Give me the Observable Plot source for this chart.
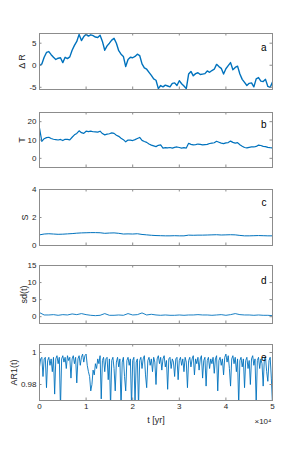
<!DOCTYPE html>
<html><head><meta charset="utf-8">
<script src="https://cdn.jsdelivr.net/npm/d3@7"></script>
<script src="https://cdn.jsdelivr.net/npm/@observablehq/plot@0.6"></script>
<style>
html,body{margin:0;padding:0;background:#fff;}
body{width:300px;height:450px;position:relative;overflow:hidden;font-family:"Liberation Sans",Arial,Helvetica,sans-serif;}
.panel{position:absolute;left:0;}
</style></head>
<body>
<script>
// time axis in units of 10^4 yr
const tA = [0,0.05,0.1,0.15,0.2,0.25,0.3,0.35,0.4,0.45,0.5,0.55,0.6,0.65,0.7,0.75,0.8,0.85,0.9,0.95,1,1.05,1.1,1.15,1.2,1.25,1.3,1.35,1.4,1.45,1.5,1.55,1.6,1.65,1.7,1.75,1.8,1.85,1.9,1.95,2,2.05,2.1,2.15,2.2,2.25,2.3,2.35,2.4,2.45,2.5,2.55,2.6,2.65,2.7,2.75,2.8,2.85,2.9,2.95,3,3.05,3.1,3.15,3.2,3.25,3.3,3.35,3.4,3.45,3.5,3.55,3.6,3.65,3.7,3.75,3.8,3.85,3.9,3.95,4,4.05,4.1,4.15,4.2,4.25,4.3,4.35,4.4,4.45,4.5,4.55,4.6,4.65,4.7,4.75,4.8,4.85,4.9,4.95,5];
const deltaR = [-0.1,0.3,1.8,2.9,3.1,2.4,1.8,1.3,1.6,1.7,
0.6,1.8,1.5,1.9,3.4,4.5,5.4,7.0,5.6,6.5,
7.0,6.6,6.9,6.7,6.4,6.3,6.8,5.4,3.4,4.4,
5.0,5.7,6.1,5.0,3.3,2.5,2.0,-0.3,1.3,1.8,
1.7,2.0,2.5,2.2,0.3,-0.6,-0.9,-1.6,-2.3,-3.1,
-3.4,-5.3,-4.6,-4.9,-4.5,-4.7,-4.9,-4.1,-4.0,-4.6,
-3.5,-4.2,-4.7,-5.3,-2.0,-1.4,-2.4,-1.9,-1.7,-2.1,
-2.0,-1.9,-1.3,-1.6,-1.2,-0.9,0.2,-0.3,-0.7,-2.0,
-0.8,-0.1,0.6,-1.0,-0.5,-0.2,-2.0,-3.2,-3.9,-4.6,
-4.1,-4.0,-4.9,-3.1,-2.8,-3.6,-3.7,-3.2,-4.8,-5.0,
-3.8];
const temperature = [16.5,9.3,10.7,11.3,11.5,10.8,10.4,10.2,10.0,10.3,
9.7,10.4,10.3,10.1,11.5,12.8,13.6,15.0,14.0,13.6,
14.8,14.6,14.8,14.5,14.4,14.3,14.8,13.5,12.8,13.2,
13.4,13.9,13.6,12.6,12.0,11.0,10.2,9.0,10.0,9.9,
9.7,10.2,10.8,11.4,9.8,9.2,8.7,7.8,7.2,6.8,
6.4,7.1,7.3,5.6,5.8,5.7,5.9,5.6,6.0,6.2,
5.9,5.6,5.8,5.6,8.2,7.6,7.3,7.5,7.8,7.6,
7.3,7.5,7.6,8.1,8.3,8.5,9.3,8.8,8.3,8.0,
8.4,8.6,9.4,8.7,8.3,8.6,7.4,6.6,5.9,5.7,
6.0,6.2,6.2,6.5,7.2,7.0,6.5,6.4,6.0,5.8,
5.7];
const tC = [0,0.1,0.2,0.3,0.4,0.5,0.6,0.7,0.8,0.9,1,1.1,1.2,1.3,1.4,1.5,1.6,1.7,1.8,1.9,2,2.1,2.2,2.3,2.4,2.5,2.6,2.7,2.8,2.9,3,3.1,3.2,3.3,3.4,3.5,3.6,3.7,3.8,3.9,4,4.1,4.2,4.3,4.4,4.5,4.6,4.7,4.8,4.9,5];
const sVals = [0.76,0.82,0.84,0.82,0.80,0.81,0.83,0.85,0.88,0.90,
0.91,0.92,0.92,0.91,0.87,0.89,0.90,0.87,0.82,0.83,
0.82,0.84,0.79,0.76,0.73,0.71,0.70,0.69,0.69,0.70,
0.69,0.69,0.74,0.73,0.74,0.74,0.75,0.76,0.77,0.75,
0.76,0.77,0.76,0.72,0.69,0.69,0.70,0.71,0.70,0.69,
0.69];
const sdVals = [1.2,0.5,0.5,0.6,0.4,0.6,0.5,0.8,0.6,0.9,
0.6,0.4,0.3,0.4,0.9,0.4,0.4,0.5,0.4,0.9,
0.5,0.6,1.1,0.5,0.7,0.5,0.4,0.5,0.4,0.4,
0.5,0.4,0.5,0.5,0.6,0.5,0.5,0.4,0.5,0.6,
0.4,0.6,0.9,0.6,0.5,0.5,0.4,0.5,0.4,0.4,
0.3];
const tE = [0,0.025,0.05,0.075,0.1,0.125,0.15,0.175,
0.2,0.225,0.25,0.275,0.3,0.325,0.35,0.375,
0.4,0.425,0.45,0.475,0.5,0.525,0.55,0.575,
0.6,0.625,0.65,0.675,0.7,0.725,0.75,0.775,
0.8,0.825,0.85,0.875,0.9,0.925,0.95,0.975,
1,1.025,1.05,1.075,1.1,1.125,1.15,1.175,
1.2,1.225,1.25,1.275,1.3,1.325,1.35,1.375,
1.4,1.425,1.45,1.475,1.5,1.525,1.55,1.575,
1.6,1.625,1.65,1.675,1.7,1.725,1.75,1.775,
1.8,1.825,1.85,1.875,1.9,1.925,1.95,1.975,
2,2.025,2.05,2.075,2.1,2.125,2.15,2.175,
2.2,2.225,2.25,2.275,2.3,2.325,2.35,2.375,
2.4,2.425,2.45,2.475,2.5,2.525,2.55,2.575,
2.6,2.625,2.65,2.675,2.7,2.725,2.75,2.775,
2.8,2.825,2.85,2.875,2.9,2.925,2.95,2.975,
3,3.025,3.05,3.075,3.1,3.125,3.15,3.175,
3.2,3.225,3.25,3.275,3.3,3.325,3.35,3.375,
3.4,3.425,3.45,3.475,3.5,3.525,3.55,3.575,
3.6,3.625,3.65,3.675,3.7,3.725,3.75,3.775,
3.8,3.825,3.85,3.875,3.9,3.925,3.95,3.975,
4,4.025,4.05,4.075,4.1,4.125,4.15,4.175,
4.2,4.225,4.25,4.275,4.3,4.325,4.35,4.375,
4.4,4.425,4.45,4.475,4.5,4.525,4.55,4.575,
4.6,4.625,4.65,4.675,4.7,4.725,4.75,4.775,
4.8,4.825,4.85,4.875,4.9,4.925,4.95,4.975,
5];
const ar1 = [0.991,0.996,0.997,0.985,0.996,0.997,0.978,0.995,
0.997,0.992,0.996,0.988,0.997,0.974,0.996,0.998,
0.993,0.997,0.965,0.996,0.998,0.994,0.997,0.990,
0.998,0.995,0.997,0.984,0.996,0.998,0.993,0.997,
0.981,0.996,0.998,0.992,0.997,0.999,0.994,0.998,
0.999,0.992,0.988,0.985,0.976,0.980,0.989,0.986,
0.993,0.990,0.996,0.993,0.998,0.971,0.995,0.997,
0.988,0.996,0.997,0.983,0.996,0.966,0.995,0.997,
0.990,0.976,0.994,0.997,0.991,0.996,0.965,0.994,
0.997,0.985,0.976,0.995,0.997,0.992,0.996,0.966,
0.995,0.997,0.968,0.994,0.996,0.966,0.995,0.997,
0.990,0.996,0.998,0.986,0.978,0.995,0.997,0.992,
0.996,0.988,0.997,0.994,0.980,0.996,0.998,0.993,
0.997,0.989,0.996,0.998,0.991,0.995,0.977,0.996,
0.997,0.990,0.996,0.994,0.985,0.996,0.997,0.983,
0.995,0.997,0.992,0.996,0.988,0.997,0.994,0.978,
0.995,0.997,0.991,0.996,0.998,0.986,0.996,0.993,
0.997,0.989,0.996,0.998,0.984,0.995,0.997,0.979,
0.995,0.997,0.990,0.996,0.993,0.997,0.987,0.996,
0.998,0.976,0.995,0.997,0.992,0.996,0.986,0.997,
0.999,0.994,0.998,0.990,0.979,0.996,0.998,0.993,
0.997,0.988,0.996,0.967,0.995,0.997,0.991,0.996,
0.978,0.995,0.997,0.990,0.995,0.980,0.996,0.998,
0.992,0.996,0.968,0.995,0.997,0.990,0.996,0.993,
0.979,0.996,0.997,0.988,0.982,0.995,0.997,0.984,
0.967];

const xTicks = [0,1,2,3,4,5];
const yTicksA = [-5,0,5];
const yTicksB = [0,10,20];
const yTicksC = [0,2,4];
const yTicksD = [0,5,10,15];
const yTicksE = [0.98,1];
const yLabels = ["Δ R","T","S","sd(t)","AR1(t)"];
const letters = ["a","b","c","d","e"];
const xLabel = "t [yr]";
const xExponent = "×10⁴";

const FONT = '"Liberation Sans", Arial, Helvetica, sans-serif';
const INK = "#262626";
const AXC = "#8c8c8c";
const LINEC = "#0072BD";
const ML = 39, MR = 28, W = 300, PW = W - ML - MR;
const TL = 2.5;

function panel(cfg) {
  const {t, v, top, h, domain, yTicks, label, labelDx, letter, last, sw} = cfg;
  const mt = 8, mb = last ? 32 : 8;
  const data = t.map((x, i) => ({x, y: v[i]}));
  const marks = [
    Plot.line(data, {x: "x", y: "y", stroke: LINEC, strokeWidth: sw, clip: true}),
    Plot.frame({stroke: AXC, strokeWidth: 1}),
    Plot.tickX(xTicks, {x: d => d, insetTop: h - TL, stroke: AXC}),
    Plot.tickX(xTicks, {x: d => d, insetBottom: h - TL, stroke: AXC}),
    Plot.tickY(yTicks, {y: d => d, insetRight: PW - TL, stroke: AXC}),
    Plot.tickY(yTicks, {y: d => d, insetLeft: PW - TL, stroke: AXC}),
    Plot.axisY(yTicks, {tickSize: 0, tickPadding: 3, tickFormat: d => String(d), fontSize: 8, fill: INK, label: null}),
    Plot.text([label], {frameAnchor: "left", rotate: -90, dx: labelDx, fontSize: 9, fill: INK, textAnchor: "middle", lineAnchor: "middle"}),
    Plot.text([letter], {frameAnchor: "top-right", dx: -6, dy: cfg.letterDy, fontSize: 10, fill: "#000", textAnchor: "end", lineAnchor: "middle"})
  ];
  if (last) {
    marks.push(
      Plot.axisX(xTicks, {tickSize: 0, tickPadding: 3, tickFormat: d => String(d), fontSize: 8, fill: INK, label: null}),
      Plot.text([xLabel], {frameAnchor: "bottom", dy: 20, fontSize: 9, fill: INK, lineAnchor: "middle"}),
      Plot.text([xExponent], {frameAnchor: "bottom-right", dx: -1, dy: 21, fontSize: 8, fill: INK, textAnchor: "end", lineAnchor: "middle"})
    );
  }
  const chart = Plot.plot({
    width: W, height: h + mt + mb,
    marginLeft: ML, marginRight: MR, marginTop: mt, marginBottom: mb,
    style: {fontFamily: FONT, background: "transparent", color: INK, overflow: "visible"},
    x: {domain: [0, 5], axis: null},
    y: {domain, axis: null},
    marks
  });
  const div = document.createElement("div");
  div.className = "panel";
  div.style.top = (top - mt) + "px";
  div.appendChild(chart);
  document.body.appendChild(div);
}

panel({t: tA, v: deltaR, top: 33, h: 56, domain: [-5.5, 7.2], yTicks: yTicksA, label: yLabels[0], labelDx: -17, letter: letters[0], letterDy: 14, sw: 1.4});
panel({t: tA, v: temperature, top: 112, h: 55, domain: [-5, 25], yTicks: yTicksB, label: yLabels[1], labelDx: -17, letter: letters[1], letterDy: 12, sw: 1.2});
panel({t: tC, v: sVals, top: 189, h: 56, domain: [0, 4], yTicks: yTicksC, label: yLabels[2], labelDx: -14, letter: letters[2], letterDy: 13, sw: 1});
panel({t: tC, v: sdVals, top: 265, h: 58, domain: [-2, 15], yTicks: yTicksD, label: yLabels[3], labelDx: -15, letter: letters[3], letterDy: 15, sw: 0.9});
panel({t: tE, v: ar1, top: 344, h: 56, domain: [0.97, 1.005], yTicks: yTicksE, label: yLabels[4], labelDx: -25, letter: letters[4], letterDy: 13, sw: 0.9, last: true});
</script>
</body></html>
